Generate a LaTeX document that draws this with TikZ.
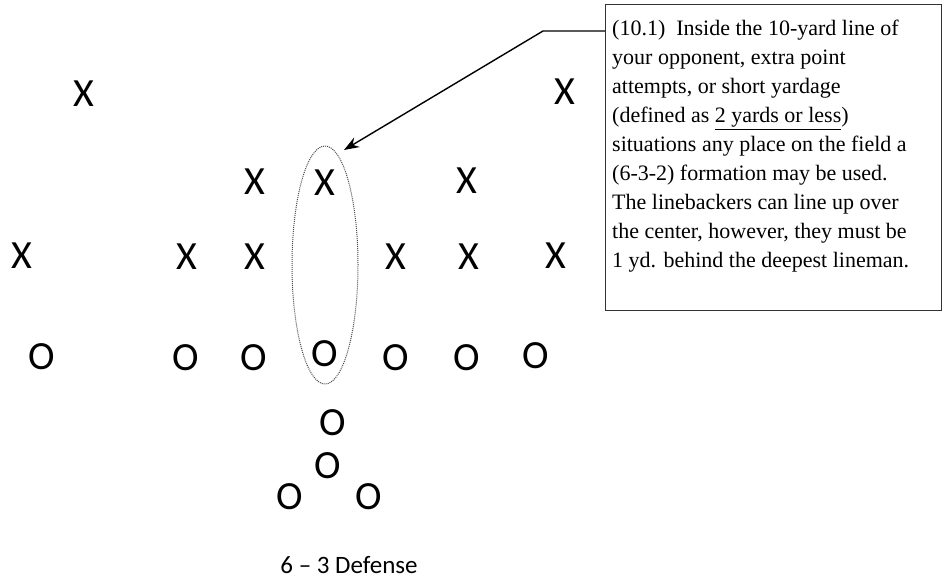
\documentclass[tikz,border=0pt]{standalone}
\usepackage{fontspec}
\usetikzlibrary{shapes.geometric,arrows.meta}
\setmainfont{Liberation Serif}
\newfontfamily\calib{Carlito}
\begin{document}
\begin{tikzpicture}[x=1pt,y=-1pt,
  pl/.style={font=\calib\fontsize{40}{40}\selectfont, inner sep=0pt, anchor=center},
  note/.style={draw=black!80, line width=1.3pt, minimum width=336pt, minimum height=306pt, anchor=north west, inner sep=0pt}]
\useasboundingbox (0,0) rectangle (943,580);
% X players
\node[pl] (x1) at (84,94) {X};
\node[pl] (x2) at (565,92) {X};
\node[pl] (x3) at (255,182) {X};
\node[pl] (x4) at (325,183) {X};
\node[pl] (x5) at (467,181) {X};
\node[pl] (x6) at (22,256) {X};
\node[pl] (x7) at (187,257) {X};
\node[pl] (x8) at (255,257) {X};
\node[pl] (x9) at (396,257) {X};
\node[pl] (x10) at (469,257) {X};
\node[pl] (x11) at (556,256) {X};
% O players
\node[pl] (o1) at (42,357) {O};
\node[pl] (o2) at (186,358) {O};
\node[pl] (o3) at (254,358) {O};
\node[pl] (o4) at (325,354) {O};
\node[pl] (o5) at (396,358) {O};
\node[pl] (o6) at (467,358) {O};
\node[pl] (o7) at (536,356) {O};
\node[pl] (o8) at (333,423) {O};
\node[pl] (o9) at (328,466) {O};
\node[pl] (o10) at (290,497) {O};
\node[pl] (o11) at (369,497) {O};
% label
\node[font=\calib\fontsize{25}{25}\selectfont, inner sep=0pt] (lbl) at (349,565) {6 – 3 Defense};
% ellipse
\node[draw=black!70, densely dotted, line width=1pt, ellipse, minimum width=66pt, minimum height=238pt, inner sep=0pt] (ell) at (325,265) {};
% note box
\node[note] (box) at (605,4) {};
\node[anchor=north west, inner sep=0pt, align=left, font=\fontsize{22}{29}\selectfont] (txt) at (612,20) {(10.1)\ \ Inside the 10-yard line of\\your opponent, extra point\\attempts, or short yardage\\(defined as \underline{2 yards or less})\\situations any place on the field a\\(6-3-2) formation may be used.\\The linebackers can line up over\\the center, however, they must be\\1 yd. behind the deepest lineman.};
\coordinate (bend) at (543,31);
\coordinate (tip) at (344,150);
\draw[line width=1.4pt, -{Stealth[length=15pt,width=11pt]}] (box.west |- bend) -- (bend) -- (tip);
\end{tikzpicture}
\end{document}
